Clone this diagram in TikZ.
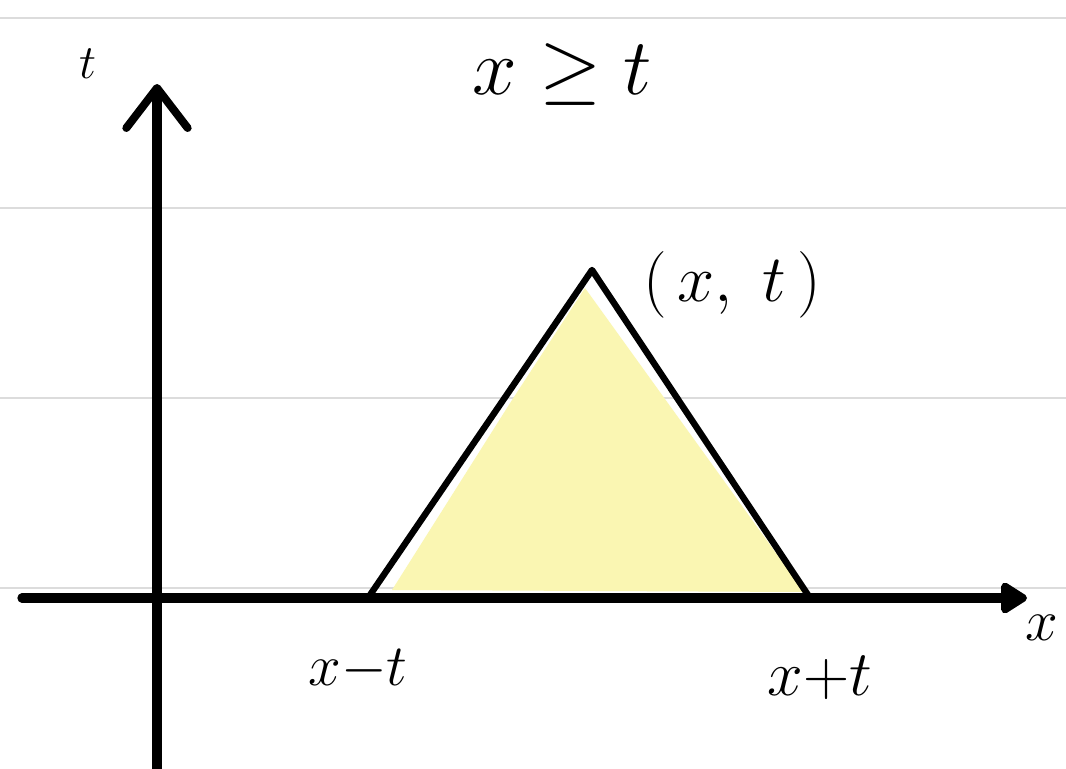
\RequirePackage{fix-cm}
\documentclass[tikz,border=0pt]{standalone}
\usetikzlibrary{arrows.meta}
\definecolor{ruled}{HTML}{DCDCDC}
\definecolor{hilite}{HTML}{FAF6B2}
\begin{document}
\begin{tikzpicture}[x=0.75pt,y=-0.75pt,
  rule/.style={ruled,line width=2.2pt},
  axisline/.style={line width=7pt,line cap=round},
  edge/.style={line width=4.8pt,line join=round,line cap=round},
  lbl/.style={inner sep=0pt,font=\fontsize{#1}{#1}\selectfont},
  lbl/.default=44pt]
\useasboundingbox (0,0) rectangle (1066,768);
\fill[white] (0,0) rectangle (1066,768);
% ruled paper
\foreach \yy in {18,208,398,588} \draw[rule] (0,\yy) -- (1066,\yy);
% triangle
\coordinate (A) at (370,595);
\coordinate (B) at (592,270);
\coordinate (C) at (808,595);
\fill[hilite] (392,590) -- (512,400) -- (585,288) -- (804,592) -- cycle;
\draw[edge] (A) -- (B) -- (C);
% axes
\coordinate (xs) at (22,598);
\coordinate (xe) at (1027,598);
\coordinate (ts) at (157,775);
\coordinate (te) at (157,84);
\draw[axisline,-{Triangle[round,length=22pt,width=26pt]}] (xs) -- (xe);
\draw[axisline,-{Straight Barb[round,length=30pt,width=46pt,line width=6pt]}] (ts) -- (te);
% labels
\node[lbl=60pt] (title) at (562,74) {$x \geq t$};
\node[lbl=36pt] (tl) at (88,64) {$t$};
\node[lbl=44pt] (xl) at (1042,628) {$x$};
\node[lbl=50pt] (apex) at (732,285) {$(\,x,\;t\,)$};
\node[lbl=44pt] (lft) at (358,670) {$x{-}t$};
\node[lbl=48pt] (rgt) at (820,678) {$x{+}t$};
\end{tikzpicture}
\end{document}
